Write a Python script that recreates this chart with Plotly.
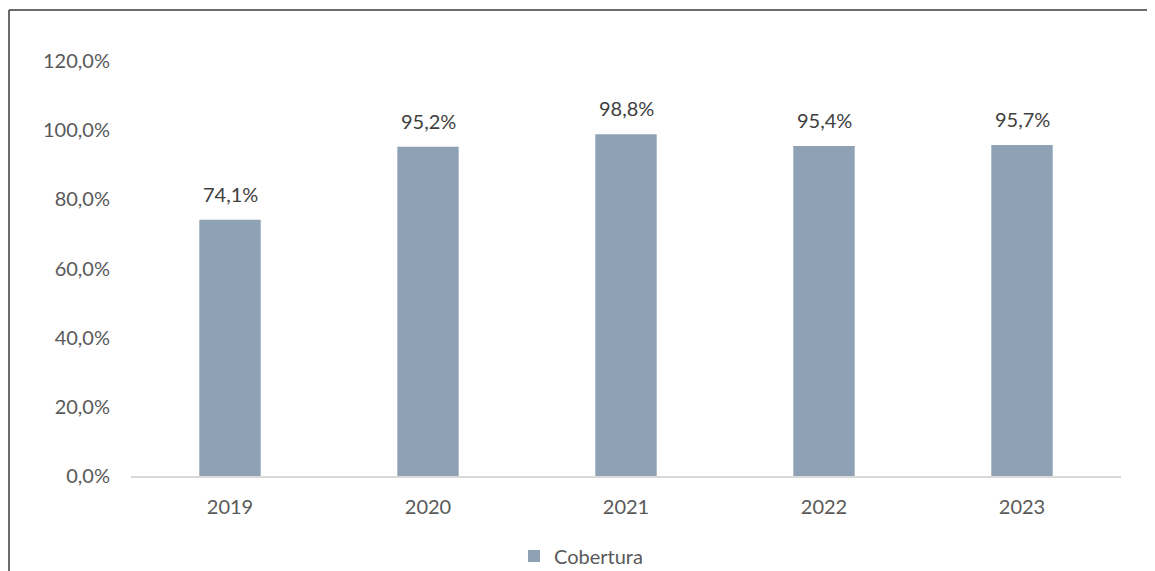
import plotly.graph_objects as go

years = ["2019", "2020", "2021", "2022", "2023"]
cobertura = [74.1, 95.2, 98.8, 95.4, 95.7]
labels = ["74,1%", "95,2%", "98,8%", "95,4%", "95,7%"]
y_ticks = [0, 20, 40, 60, 80, 100, 120]
y_tick_text = ["0,0%", "20,0%", "40,0%", "60,0%", "80,0%", "100,0%", "120,0%"]

W, H = 1155, 571
L, R, T, B = 123, 42, 53, 103
pw, ph = W - L - R, H - T - B

def px(x):
    return (x - L) / pw

def py(y):
    return (H - B - y) / ph

FONT = "Lato"
GRAY = "#595959"

fig = go.Figure()
fig.add_trace(go.Bar(
    x=years, y=cobertura, name="Cobertura",
    marker=dict(color="#8EA1B5", line=dict(width=0)),
    width=0.31,
))

for i, (v, t) in enumerate(zip(cobertura, labels)):
    fig.add_annotation(x=i, y=v, text=t, showarrow=False, yanchor="bottom",
                       yshift=12, font=dict(family=FONT, size=20, color="#404040"))

# outer frame (cropped, left and top visible)
fig.add_shape(type="line", xref="paper", yref="paper", x0=px(1), x1=px(1),
              y0=py(2), y1=py(H + 5), line=dict(color="#3a3a3a", width=1.5))
fig.add_shape(type="line", xref="paper", yref="paper", x0=px(1), x1=px(W + 5),
              y0=py(2), y1=py(2), line=dict(color="#3a3a3a", width=1.5))

fig.update_layout(
    width=W, height=H,
    margin=dict(l=L, r=R, t=T, b=B, autoexpand=False),
    paper_bgcolor="white", plot_bgcolor="white",
    separators=",.",
    showlegend=True,
    legend=dict(orientation="h", xref="container", yref="container",
                x=506 / W, xanchor="left", y=(H - 548) / H, yanchor="middle",
                font=dict(family=FONT, size=20, color=GRAY), itemwidth=30,
                bgcolor="rgba(0,0,0,0)"),
    font=dict(family=FONT, color=GRAY),
)
fig.update_xaxes(
    type="category", range=[-0.5, len(years) - 0.5],
    showgrid=False, showline=True, linecolor="#d9d9d9", linewidth=1.5,
    tickfont=dict(family=FONT, size=20, color=GRAY),
    ticks="outside", ticklen=12, tickcolor="rgba(0,0,0,0)",
    fixedrange=True,
)
fig.update_yaxes(
    range=[0, 120], tickvals=y_ticks, ticktext=y_tick_text,
    showgrid=False, showline=False, zeroline=False,
    tickfont=dict(family=FONT, size=20, color=GRAY),
    ticks="outside", ticklen=16, tickcolor="rgba(0,0,0,0)",
    fixedrange=True,
)

fig.write_html("out.html")
